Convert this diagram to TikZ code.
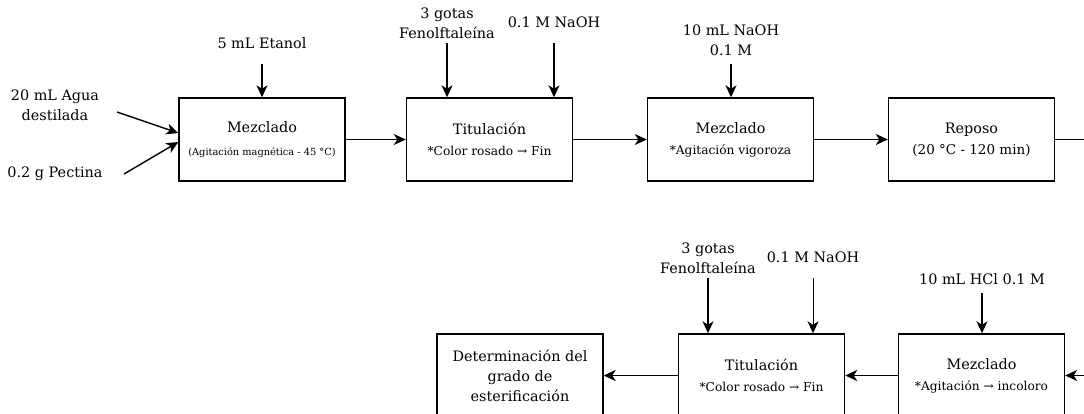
\documentclass[tikz,border=0pt]{standalone}
\usepackage{fontspec}
\setmainfont{DejaVu Serif}
\usetikzlibrary{arrows.meta,calc}
\newcommand\mainfont{\fontsize{14.4}{20}\selectfont}
\newcommand\subfont{\fontsize{12.2}{16}\selectfont}
\newcommand\tinyfont{\fontsize{9.8}{13}\selectfont}
\begin{document}
\begin{tikzpicture}[x=1pt,y=-1pt,
  box/.style={draw, line width=1.4pt, minimum width=166pt, minimum height=83pt,
    align=center, inner sep=0pt, font=\mainfont},
  lbl/.style={align=center, inner sep=0pt, font=\mainfont},
  arr/.style={line width=1.4pt, -{Stealth[length=12pt,width=11pt,inset=3.5pt]}},
  thinarr/.style={line width=0.9pt, -{Stealth[length=12pt,width=11pt,inset=3.5pt]}},
  ln/.style={line width=1.4pt},
]
\useasboundingbox (0,0) rectangle (1084,413);
\clip (0,0) rectangle (1084,413);

% top row boxes
\node[box] (m1) at (262,139.5) {Mezclado\\[3pt]{\tinyfont (Agitación magnética - 45 °C)}};
\node[box] (t1) at (489.5,139.5) {Titulación\\[1pt]{\subfont *Color rosado → Fin}};
\node[box] (m2) at (730.5,139.5) {Mezclado\\[1pt]{\subfont *Agitación vigoroza}};
\node[box] (r1) at (971.5,139.5) {Reposo\\[1pt]{\fontsize{13.5}{18}\selectfont (20 °C - 120 min)}};

% bottom row boxes
\node[box] (d1) at (520,375.5) {Determinación del\\grado de\\esterificación};
\node[box] (t2) at (761.5,375.5) {Titulación\\[1pt]{\subfont *Color rosado → Fin}};
\node[box] (m3) at (981.5,375.5) {Mezclado\\[1pt]{\subfont *Agitación → incoloro}};

% input labels
\node[lbl] (e1) at (262,43) {5 mL Etanol};
\node[lbl] (f1) at (447,23) {3 gotas\\Fenolftaleína};
\node[lbl] (n1) at (554,22) {0.1 M NaOH};
\node[lbl] (n2) at (731,40.5) {10 mL NaOH\\0.1 M};
\node[lbl] (a1) at (55,105) {20 mL Agua\\destilada};
\node[lbl] (p1) at (55,174) {0.2 g Pectina};
\node[lbl] (f2) at (708,258) {3 gotas\\Fenolftaleína};
\node[lbl] (n3) at (813,257) {0.1 M NaOH};
\node[lbl] (h1) at (982,279) {10 mL HCl 0.1 M};

% input arrows
\draw[arr] (e1.center) ++(0,21) -- (e1.center |- m1.north);
\draw[arr] (f1.center) ++(0,20) -- (f1.center |- t1.north);
\draw[arr] (n1.center) ++(0,21) -- (n1.center |- t1.north);
\draw[arr] (n2.center) ++(0,23.5) -- (n2.center |- m2.north);
\draw[arr] ($(a1.center)+(62,7)$) -- ($(m1.west)+(0,-6.5)$);
\draw[arr] ($(p1.center)+(69,0)$) -- ($(m1.west)+(0,2.5)$);
\draw[arr] (f2.center) ++(0,20) -- (f2.center |- t2.north);
\draw[thinarr] (n3.center) ++(0,21) -- (n3.center |- t2.north);
\draw[arr] (h1.center) ++(0,14) -- (h1.center |- m3.north);

% process connectors
\draw[arr] (m1) -- (t1);
\draw[arr] (t1) -- (m2);
\draw[arr] (m2) -- (r1);
\coordinate (outR) at (1084,139.5);
\draw[ln] (r1) -- (outR);
\coordinate (inR) at (1084,375.5);
\draw[arr] (inR) -- (m3);
\draw[arr] (m3) -- (t2);
\draw[arr] (t2) -- (d1);
\end{tikzpicture}
\end{document}
